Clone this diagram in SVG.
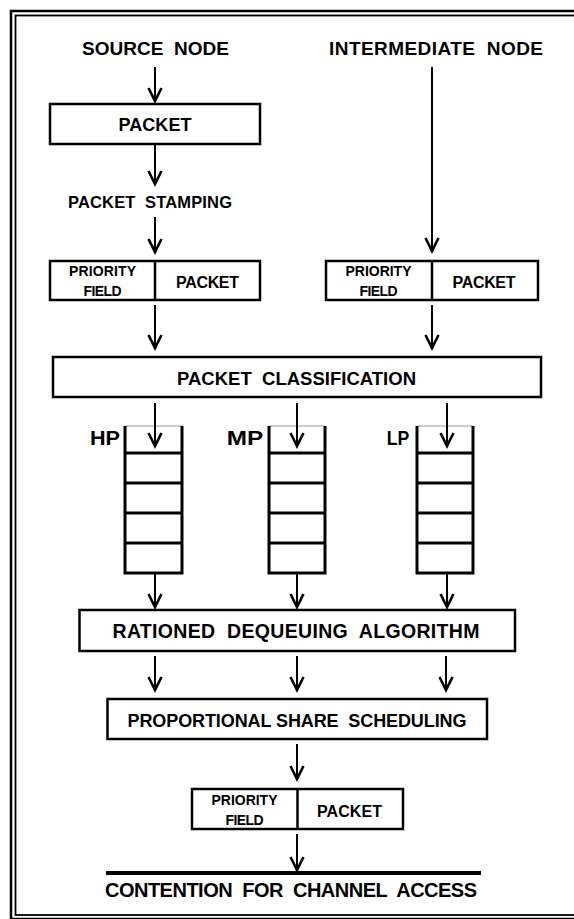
<svg xmlns="http://www.w3.org/2000/svg" width="574" height="919" viewBox="0 0 574 919">
<style>
  text { font-family: "Liberation Sans", Arial, sans-serif; font-weight: bold; fill: #000; text-anchor: middle; white-space: pre; }
  .box { fill: #fff; stroke: #000; stroke-width: 2.5; }
  .div { stroke: #000; stroke-width: 2.5; }
  .q { stroke: #000; stroke-width: 3; fill: none; }
  .qtop { stroke: #9a9a9a; stroke-width: 1; }
  .conn line { stroke: #000; stroke-width: 2; marker-end: url(#arr); }
</style>
<defs>
  <marker id="arr" markerUnits="userSpaceOnUse" viewBox="-16 -9 18 18" markerWidth="18" markerHeight="18" refX="0" refY="0" orient="auto" overflow="visible">
    <path d="M-13,-6.5 L0,0 L-13,6.5" fill="none" stroke="#000" stroke-width="2.6" stroke-linejoin="miter"/>
  </marker>
</defs>
<rect width="574" height="919" fill="#fff"/>
<g id="frame" fill="none" stroke="#000">
  <rect x="11" y="11" width="590" height="908" stroke-width="2.5"/>
  <rect x="15.5" y="15.5" width="580" height="899.5" stroke-width="1.8"/>
</g>

<g id="source-node"><text x="155.5" y="55" font-size="19" textLength="147" xml:space="preserve">SOURCE  NODE</text></g>
<g id="intermediate-node"><text x="436" y="55" font-size="19" textLength="214" xml:space="preserve">INTERMEDIATE  NODE</text></g>

<g id="packet">
  <rect class="box" x="50" y="104" width="210" height="40"/>
  <text x="155" y="131" font-size="18" textLength="73">PACKET</text>
</g>

<g id="packet-stamping"><text x="150" y="208" font-size="16.5" textLength="164" xml:space="preserve">PACKET  STAMPING</text></g>

<g id="priority-packet-1">
  <rect class="box" x="50" y="261" width="210" height="39"/>
  <line class="div" x1="155" y1="261" x2="155" y2="300"/>
  <text x="102.5" y="276" font-size="14" textLength="67">PRIORITY</text>
  <text x="102.5" y="296" font-size="14" textLength="38">FIELD</text>
  <text x="207.5" y="287.5" font-size="16" textLength="63">PACKET</text>
</g>

<g id="priority-packet-2">
  <rect class="box" x="326" y="261" width="212" height="39"/>
  <line class="div" x1="432" y1="261" x2="432" y2="300"/>
  <text x="378.5" y="276" font-size="14" textLength="66">PRIORITY</text>
  <text x="378.5" y="296" font-size="14" textLength="38">FIELD</text>
  <text x="484" y="287.5" font-size="16" textLength="63">PACKET</text>
</g>

<g id="packet-classification">
  <rect class="box" x="53" y="357" width="488" height="40"/>
  <text x="296.5" y="385" font-size="18.5" textLength="239" xml:space="preserve">PACKET  CLASSIFICATION</text>
</g>

<g id="hp-queue">
  <line class="qtop" x1="125" y1="426" x2="182" y2="426"/>
  <path class="q" d="M125,426 V573 H182 V426 M125,453 H182 M125,483 H182 M125,513 H182 M125,543 H182"/>
  <text x="105" y="445" font-size="21" textLength="30" lengthAdjust="spacingAndGlyphs">HP</text>
</g>
<g id="mp-queue">
  <line class="qtop" x1="269" y1="426" x2="325" y2="426"/>
  <path class="q" d="M269,426 V573 H325 V426 M269,453 H325 M269,483 H325 M269,513 H325 M269,543 H325"/>
  <text x="245" y="445" font-size="21" textLength="36.5" lengthAdjust="spacingAndGlyphs">MP</text>
</g>
<g id="lp-queue">
  <line class="qtop" x1="417" y1="426" x2="473" y2="426"/>
  <path class="q" d="M417,426 V573 H473 V426 M417,453 H473 M417,483 H473 M417,513 H473 M417,543 H473"/>
  <text x="398" y="445" font-size="21" textLength="22.5" lengthAdjust="spacingAndGlyphs">LP</text>
</g>

<g id="rationed-dequeuing">
  <rect class="box" x="79.5" y="610" width="435.5" height="41"/>
  <text x="296" y="637.5" font-size="19.5" textLength="367" xml:space="preserve">RATIONED  DEQUEUING  ALGORITHM</text>
</g>

<g id="proportional-share">
  <rect class="box" x="107.5" y="699" width="379.5" height="40"/>
  <text x="297" y="727" font-size="18" textLength="339" xml:space="preserve">PROPORTIONAL SHARE  SCHEDULING</text>
</g>

<g id="priority-packet-3">
  <rect class="box" x="192" y="789" width="211" height="40"/>
  <line class="div" x1="297.5" y1="789" x2="297.5" y2="829"/>
  <text x="244.5" y="804.5" font-size="14" textLength="66">PRIORITY</text>
  <text x="244.5" y="825" font-size="14" textLength="38">FIELD</text>
  <text x="349.5" y="817" font-size="16" textLength="65">PACKET</text>
</g>

<g id="channel-access">
  <line x1="106" y1="873" x2="481" y2="873" stroke="#000" stroke-width="4"/>
  <text x="291" y="897" font-size="20" textLength="372" xml:space="preserve">CONTENTION  FOR  CHANNEL  ACCESS</text>
</g>

<g id="connectors" class="conn">
  <line x1="155" y1="67" x2="155" y2="101"/>
  <line x1="155" y1="144" x2="155" y2="184"/>
  <line x1="155" y1="217" x2="155" y2="252"/>
  <line x1="432" y1="67" x2="432" y2="251"/>
  <line x1="155" y1="305" x2="155" y2="348"/>
  <line x1="432" y1="305" x2="432" y2="348"/>
  <line x1="155" y1="403" x2="155" y2="446"/>
  <line x1="297" y1="403" x2="297" y2="446"/>
  <line x1="447" y1="403" x2="447" y2="446"/>
  <line x1="155" y1="573" x2="155" y2="607"/>
  <line x1="297" y1="573" x2="297" y2="607"/>
  <line x1="447" y1="573" x2="447" y2="607"/>
  <line x1="155" y1="656" x2="155" y2="690"/>
  <line x1="297" y1="656" x2="297" y2="690"/>
  <line x1="446" y1="656" x2="446" y2="690"/>
  <line x1="297" y1="744" x2="297" y2="779"/>
  <line x1="297" y1="834" x2="297" y2="870"/>
</g>
</svg>
